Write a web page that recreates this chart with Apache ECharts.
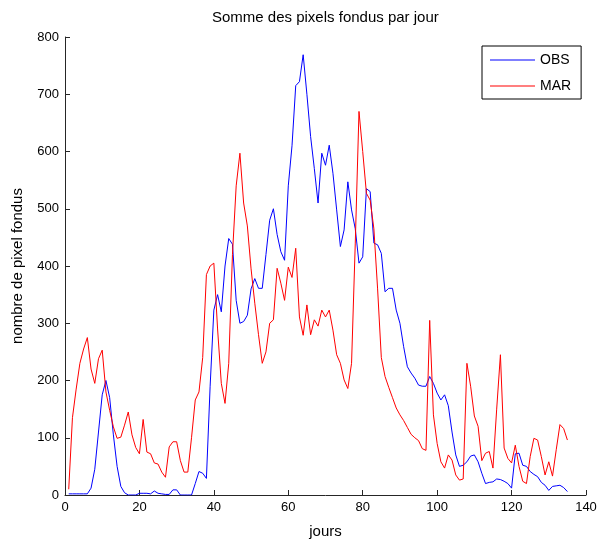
<!DOCTYPE html>
<html>
<head>
<meta charset="utf-8">
<title>Somme des pixels fondus par jour</title>
<script src="https://cdn.jsdelivr.net/npm/echarts@6/dist/echarts.min.js"></script>
<style>
  html, body { margin: 0; padding: 0; background: #fff; }
  #chart { width: 611px; height: 542px; }
</style>
</head>
<body>
<div id="chart"></div>
<script>
// Daily sums of melted pixels, day 1 .. 135
const firstDay = 1;
const obs = [
  2, 2, 2, 2, 2, 2, 12, 45, 110, 175,
  200, 170, 105, 50, 15, 4, 0, 0, 0, 3,
  3, 3, 2, 7, 3, 2, 1, 1, 9, 9,
  0, 0, 0, 0, 20, 41, 38, 29, 190, 323,
  350, 320, 400, 448, 438, 340, 300, 303, 314, 360,
  378, 361, 361, 420, 480, 500, 455, 425, 410, 540,
  610, 715, 722, 769, 700, 626, 570, 510, 597, 576,
  611, 562, 498, 434, 463, 547, 498, 465, 405, 416,
  535, 530, 440, 437, 422, 355, 361, 361, 323, 300,
  259, 224, 213, 204, 192, 190, 190, 207, 195, 178,
  166, 175, 156, 110, 70, 50, 52, 58, 68, 70,
  58, 38, 20, 22, 23, 28, 27, 24, 20, 12,
  72, 73, 52, 50, 41, 36, 32, 22, 17, 8,
  15, 16, 17, 13, 6
];
const mar = [
  10, 135, 185, 230, 255, 275, 220, 195, 238, 253,
  180, 148, 119, 99, 101, 122, 145, 105, 83, 72,
  132, 75, 72, 56, 54, 40, 31, 84, 93, 93,
  60, 40, 40, 100, 166, 180, 240, 385, 400, 405,
  290, 195, 160, 230, 420, 540, 597, 510, 470, 395,
  335, 280, 230, 250, 300, 306, 396, 370, 340, 398,
  380, 431, 311, 279, 332, 280, 306, 295, 323, 311,
  323, 288, 245, 230, 201, 186, 230, 440, 670, 600,
  527, 515, 465, 360, 240, 207, 188, 170, 152, 140,
  130, 118, 106, 100, 95, 81, 78, 305, 140, 90,
  58, 47, 70, 61, 35, 26, 28, 230, 190, 138,
  120, 60, 73, 76, 47, 150, 245, 82, 64, 56,
  87, 50, 24, 20, 67, 99, 96, 67, 35, 58,
  33, 79, 123, 116, 96
];
const seriesNames = ['OBS', 'MAR'];

const toPairs = arr => arr.map((v, i) => [firstDay + i, v]);

const font = '"Liberation Sans", Arial, sans-serif';
const axisColor = '#262626';

const chart = echarts.init(document.getElementById('chart'), null, { renderer: 'canvas' });
chart.setOption({
  animation: false,
  backgroundColor: '#ffffff',
  title: {
    text: 'Somme des pixels fondus par jour',
    left: 207,
    top: 5,
    textStyle: { fontFamily: font, fontSize: 15, fontWeight: 'normal', color: '#000' }
  },
  legend: {
    orient: 'vertical',
    left: 482,
    top: 46,
    padding: [6, 10, 5, 8],
    icon: 'rect',
    itemWidth: 45,
    itemHeight: 1,
    itemGap: 10,
    borderColor: '#000',
    borderWidth: 1,
    backgroundColor: '#fff',
    textStyle: { fontFamily: font, fontSize: 14, color: '#000', lineHeight: 16 },
    data: seriesNames
  },
  grid: { left: 65, right: 25, top: 37, bottom: 47, outerBoundsMode: 'none', containLabel: false },
  xAxis: {
    type: 'value',
    min: 0,
    max: 140,
    interval: 20,
    name: 'jours',
    nameLocation: 'middle',
    nameGap: 29,
    nameTextStyle: { fontFamily: font, fontSize: 15, color: '#000' },
    axisLine: { show: true, lineStyle: { color: axisColor, width: 1 } },
    axisTick: { inside: true, length: 5, lineStyle: { color: axisColor } },
    axisLabel: { fontFamily: font, fontSize: 13, color: '#000', margin: 6 },
    splitLine: { show: false }
  },
  yAxis: {
    type: 'value',
    min: 0,
    max: 800,
    interval: 100,
    name: 'nombre de pixel fondus',
    nameLocation: 'middle',
    nameGap: 40,
    nameTextStyle: { fontFamily: font, fontSize: 15, color: '#000' },
    axisLine: { show: true, lineStyle: { color: axisColor, width: 1 } },
    axisTick: { inside: true, length: 5, lineStyle: { color: axisColor } },
    axisLabel: { fontFamily: font, fontSize: 13, color: '#000', margin: 6 },
    splitLine: { show: false }
  },
  series: [
    {
      name: seriesNames[0],
      type: 'line',
      data: toPairs(obs),
      symbol: 'none',
      lineStyle: { color: '#0000ff', width: 1 },
      itemStyle: { color: '#0000ff' }
    },
    {
      name: seriesNames[1],
      type: 'line',
      data: toPairs(mar),
      symbol: 'none',
      lineStyle: { color: '#ff0000', width: 1 },
      itemStyle: { color: '#ff0000' }
    }
  ]
});
</script>
</body>
</html>
